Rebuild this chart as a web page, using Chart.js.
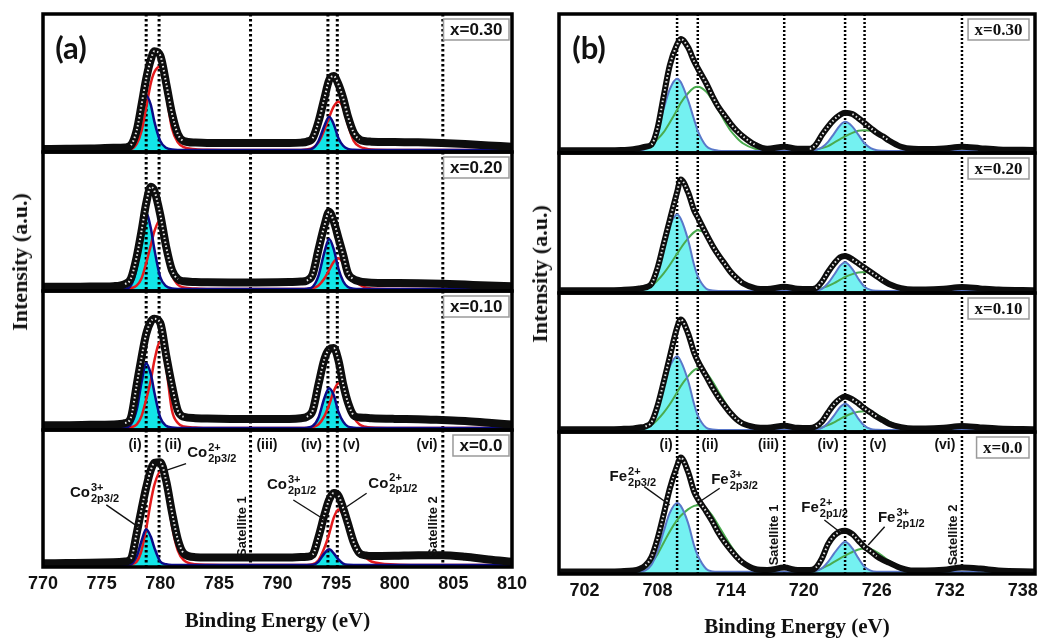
<!DOCTYPE html>
<html>
<head>
<meta charset="utf-8">
<title>Co 2p and Fe 2p XPS spectra</title>
<script src="https://cdn.jsdelivr.net/npm/chart.js@4.4.1/dist/chart.umd.min.js"></script>
<style>
  html, body { margin: 0; padding: 0; background: #fff; overflow: hidden; }
  body { position: relative; width: 1042px; height: 638px; }
  canvas { position: absolute; }
  .tag { position: absolute; z-index: 5; font: bold 31px Lato, "Open Sans", sans-serif; color: #111; transform: translate(-50%, -50%); }
  .ytitle { position: absolute; z-index: 5; font: bold 22px "Liberation Serif", "Times New Roman", serif; color: #111; white-space: nowrap; transform: translate(-50%, -50%) rotate(-90deg); }
</style>
</head>
<body>
<div class="tag" style="left:71px;top:47px">(a)</div>
<div class="tag" style="left:589px;top:47px">(b)</div>
<div class="ytitle" style="left:20px;top:262px">Intensity (a.u.)</div>
<div class="ytitle" style="left:540px;top:274px">Intensity (a.u.)</div>

<script>
// ---------- panel (a): Co 2p ----------
const aEnergy = [770, 772, 774, 776, 777, 777.5, 778, 778.4, 778.8, 779.2, 779.5, 780, 780.5, 781, 781.5, 782, 783, 784, 786, 788,
  790, 791, 792, 792.5, 793, 793.5, 794, 794.4, 794.8, 795.2, 795.6, 796, 796.5, 797, 797.5, 798, 800, 802, 804, 806, 808, 810];
const aTicks = [770, 775, 780, 785, 790, 795, 800, 805, 810];
const aMarkers = [778.8, 779.9, 787.7, 794.3, 795.1, 804.1];
const aComposition = ['x=0.30', 'x=0.20', 'x=0.10', 'x=0.0'];

// envelope (open circles), Co3+ (blue, filled), Co2+ (red)
const aEnv030 = [2.2,2.3,2.5,3,3.3,5,16,34,53,67, 73,70,50,28,13,8,6.8,6.5,6.5,6.6, 6.5,6.5,6.8,7.5,10,22,39,52,55,49, 39,26,14,9,7.8,7.5,7.2,7,6.5,5.8, 4.8,3.8];
const aCo3_030 = [1.5,1.5,1.5,1.5,1.6,3,12,28,41,34, 22,8,3,1.8,1.5,1.5,1.5,1.5,1.5,1.5, 1.5,1.5,1.5,1.6,2.5,8,19,25.5,20,10, 4.5,2.2,1.6,1.5,1.5,1.5,1.5,1.5,1.5,1.5, 1.5,1.5];
const aCo2_030 = [1.5,1.5,1.5,1.5,1.5,2,6,15,32,50, 58,62,42,17,7,3.5,2,1.6,1.5,1.5, 1.5,1.5,1.5,1.8,3,7,16,25,33,36.5, 32,20,8,4,2.5,1.8,1.5,1.5,1.5,1.5, 1.5,1.5];

const aEnv020 = [3,3,3.2,3.5,5,9,25,43,63,75, 72,55,32,15,8.5,7,6.5,6.3,6.2,6.2, 6.3,6.5,6.8,7.5,12,30,47,57,50,38, 26,13,8.5,7,6.3,6,5.8,5.6,5.2,4.6, 4,3.5];
const aCo3_020 = [1.5,1.5,1.5,1.5,1.6,4,17,40,56,45, 30,10,3.5,1.8,1.5,1.5,1.5,1.5,1.5,1.5, 1.5,1.5,1.5,1.7,3,11,28,37.4,30,16, 7,2.8,1.7,1.5,1.5,1.5,1.5,1.5,1.5,1.5, 1.5,1.5];
const aCo2_020 = [1.5,1.5,1.5,1.5,1.5,2,4,9,20,33, 43,51,36,12,4.5,2.5,1.8,1.5,1.5,1.5, 1.5,1.5,1.5,1.5,2,4,9,15,21,23.5, 20,14,8.5,4.5,2.5,1.8,1.5,1.5,1.5,1.5, 1.5,1.5];

const aEnv010 = [3.5,3.5,3.7,4,5,9,33,52,69,78, 80,77,54,32,14,9.5,8.5,8.2,8,8, 8,8,8.5,9.5,14,33,51,58,59,50, 33,20,10.5,9,8.8,8.5,8,7.8,7.2,6.5, 5.2,4];
const aCo3_010 = [1.5,1.5,1.5,1.5,1.6,4,15,34,48,40, 27,9,3,1.8,1.5,1.5,1.5,1.5,1.5,1.5, 1.5,1.5,1.5,1.7,2.8,9,23,30,25,13, 6,2.5,1.7,1.5,1.5,1.5,1.5,1.5,1.5,1.5, 1.5,1.5];
const aCo2_010 = [1.5,1.5,1.5,1.5,1.5,2,4,10,22,36, 50,63.5,45,14,5,2.5,1.8,1.5,1.5,1.5, 1.5,1.5,1.5,1.5,2,4,10,18,28,33.6, 29,19,9,4,2.3,1.8,1.5,1.5,1.5,1.5, 1.5,1.5];

const aEnv000 = [2.7,2.9,3.1,3.5,4,6,25,42,58,71, 76,76.5,63,40,20,10,7.2,7,7,7, 7,7,7.3,7.5,9,22,38,49,54,52, 43,32,18,10,8.5,8,8.2,8.6,8.6,7.5, 5.5,3.9];
const aCo3_000 = [1.5,1.5,1.5,1.5,1.5,2,8,19,27.5,22, 14,4,2,1.5,1.5,1.5,1.5,1.5,1.5,1.5, 1.5,1.5,1.5,1.5,1.6,4,10,12.9,10,5.5, 2.5,1.6,1.5,1.5,1.5,1.5,1.5,1.5,1.5,1.5, 1.5,1.5];
const aCo2_000 = [1.5,1.5,1.5,1.5,1.5,1.8,4,12,28,48, 60,69.6,58,30,12,5,2,1.6,1.5,1.5, 1.5,1.5,1.5,1.5,2,5,14,24,36,42, 38,30,20,11,7,4,1.8,1.5,1.5,1.5, 1.5,1.5];

// annotations of the x=0.0 Co spectrum (energy, intensity)
const aRomanX = [777.85, 781.1, 789.1, 792.9, 796.3, 802.75];
const aSatelliteX = [787.0, 803.3];
const aCharges = ['2+', '3+', '2+', '3+'];
const aOrbitals = ['2p3/2', '2p3/2', '2p1/2', '2p1/2'];
const aTextAt = [[782.3, 83], [772.3, 54], [797.75, 61], [789.1, 60]];
const aArrowFrom = [[782.2, 75.5], [775.4, 45.3], [797.6, 53.8], [791.35, 48.9]];
const aArrowTo = [[780.5, 70.5], [778.3, 28.2], [795.9, 44], [794.05, 34.3]];

// ---------- panel (b): Fe 2p ----------
const bEnergy = [700, 702, 704, 705, 706, 706.5, 707, 707.5, 708, 708.5, 709, 709.6, 709.9, 710.5, 711, 711.3, 712, 712.5, 713, 713.5,
  714, 714.5, 715, 716, 717, 718.4, 719.5, 720.5, 721, 721.5, 722, 722.5, 723, 723.4, 724, 724.5, 725, 725.5, 726, 726.5,
  727, 728, 729, 730, 731.5, 733, 734.5, 736, 739];
const bTicks = [702, 708, 714, 720, 726, 732, 738];
const bMarkers = [709.6, 711.3, 718.4, 723.4, 725.0, 733.0];
const bComposition = ['x=0.30', 'x=0.20', 'x=0.10', 'x=0.0'];

// envelope (open circles), Fe2+ (blue, filled), Fe3+ with satellites (green)
const bEnv030 = [2,2,2,2.2,2.8,3.5,4.5,6,18,41, 63,78,82,76,66,61,50,41,33,27, 21,16,12,6,3,4.5,3,3,6,13, 19,24,27.5,29,28,25,21.5,18,14.5,12, 9,4.5,3,2.8,3.2,4.5,3.5,2.6,2.2];
const bFe2_030 = [1.5,1.5,1.5,1.5,1.5,1.8,3,8,18,32, 46,53.5,51,38,24,16,5,2.5,1.7,1.5, 1.5,1.5,1.5,1.5,1.5,1.5,1.5,1.5,2.2,4, 8,14,20,22.4,19,13,7,3.5,2,1.6, 1.5,1.5,1.5,1.5,1.5,1.5,1.5,1.5,1.5];
const bFe3_030 = [1.5,1.5,1.5,1.5,1.6,2,3.5,6,10,15, 22,31,36,43,47,47.6,44,38,31,23, 16,11,7,3,2.2,3.8,2.2,2,2.5,3.5, 5,7.5,10,12,14.5,16,16.4,16,14,11.5, 9,4.5,2.5,2,2.5,3.5,2.5,1.8,1.5];

const bEnv020 = [2,2,2,2.2,2.6,3.2,4,6.5,18,35, 52,72,81,72,59,54,42,34,27,21, 15,10.5,7,3.5,2.8,4.5,3,2.8,3.5,8, 15,21,25.5,26.5,24,21,18,15,12,9, 6.5,3.5,2.5,2.5,3,4.2,3.3,2.5,2];
const bFe2_020 = [1.5,1.5,1.5,1.5,1.5,1.8,3,8,19,34, 48,56,53,38,20,12,3,1.8,1.5,1.5, 1.5,1.5,1.5,1.5,1.5,1.5,1.5,1.5,1.8,3, 7,13,19.5,22,17,10,4.5,2.2,1.6,1.5, 1.5,1.5,1.5,1.5,1.5,1.5,1.5,1.5,1.5];
const bFe3_020 = [1.5,1.5,1.5,1.5,1.6,2,3,5,9,14, 20,28,32,39,43.5,44.8,42,36,29,22, 15,10,6.5,3,2.2,3.5,2.2,2,2.4,3.5, 5,7,9.5,11.5,13.5,14.7,15,14.5,12.5,10, 7.5,4,2.5,2,2.4,3.3,2.4,1.8,1.5];

const bEnv010 = [2,2,2,2.2,2.6,3.2,4,7,19,36, 54,75,81,71,57,51,40,32,25,19, 13.5,9,6,3.5,3,4.5,3,2.8,4,7.5, 14,20,24,25.5,23.5,20.5,17,14,11,8.5, 6,3.5,2.5,2.5,3,4.3,3.3,2.5,2];
const bFe2_010 = [1.5,1.5,1.5,1.5,1.5,1.8,3,8,18,33, 47,54.5,51,37,20,12,3,1.8,1.5,1.5, 1.5,1.5,1.5,1.5,1.5,1.5,1.5,1.5,1.8,3, 6.5,12,18,20.4,16,9.5,4.5,2.2,1.6,1.5, 1.5,1.5,1.5,1.5,1.5,1.5,1.5,1.5,1.5];
const bFe3_010 = [1.5,1.5,1.5,1.5,1.6,2,3,5,9,14, 20,28.5,33,40,44.5,45.6,42.5,36.5,29,22, 15,10,6.5,3,2.2,3.5,2.2,2,2.4,3.4, 5,7,9.5,11.3,13.5,14.6,14.9,14.4,12.5,10, 7.5,4,2.5,2,2.4,3.3,2.4,1.8,1.5];

const bEnv000 = [1.8,1.8,1.8,2,2.5,3.5,6,12,25,42, 60,76,82,72,58,53,44,37,29,22.5, 17,12,8,3.5,2.8,4.5,2.8,2.8,4.5,11, 21,27,30,30.5,28,23.5,19,16,12.5,10, 8,4.2,2.5,2.5,3,4.5,3.8,2.5,1.8];
const bFe2_000 = [1.5,1.5,1.5,1.5,1.5,1.7,2.5,6.5,16,30, 43,50,48,36,20,13,3.5,1.8,1.5,1.5, 1.5,1.5,1.5,1.5,1.5,1.5,1.5,1.5,2,4, 8.5,14.5,20,22.7,18,11,5,2.4,1.6,1.5, 1.5,1.5,1.5,1.5,1.5,1.5,1.5,1.5,1.5];
const bFe3_000 = [1.5,1.5,1.5,1.5,1.6,2.2,4,8,14,22, 30,38,41,45.5,48,48.5,46,41,34,27, 20,14,9,4,2.4,3.8,2.2,2,2.5,4, 6,8.5,11,13,15.5,17.3,18,17.5,15.5,12.5, 9.5,5,2.7,2,2.5,3.8,2.6,1.8,1.5];

// annotations of the x=0.0 Fe spectrum (energy, intensity)
const bRomanX = [708.7, 712.3, 717.1, 722.0, 726.1, 731.6];
const bSatelliteX = [717.6, 732.3];
const bCharges = ['2+', '3+', '2+', '3+'];
const bOrbitals = ['2p3/2', '2p3/2', '2p1/2', '2p1/2'];
const bTextAt = [[704.05, 68.5], [712.4, 66.2], [719.8, 46.3], [726.1, 39.2]];
const bArrowFrom = [[706.9, 61.5], [713.1, 60.4], [721.7, 38], [726.65, 33.3]];
const bArrowTo = [[709.0, 48.6], [711.45, 50.9], [723.1, 28.7], [725.3, 20.4]];

const romans = ['(i)', '(ii)', '(iii)', '(iv)', '(v)', '(vi)'];

// ---------- layout ----------
const PADX = 30, PADY = 4;
const SANS = '"Liberation Sans", Arial, sans-serif';
const SERIF = '"Liberation Serif", "Times New Roman", serif';

const panelA = {
  left: 43, right: 512, tops: [14, 152, 291, 430], bottoms: [152, 291, 430, 567], axisH: 71,
  energy: aEnergy, min: 770, max: 810, ticks: aTicks, markers: aMarkers, labels: aComposition,
  envelopes: [aEnv030, aEnv020, aEnv010, aEnv000],
  first: [aCo3_030, aCo3_020, aCo3_010, aCo3_000],
  second: [aCo2_030, aCo2_020, aCo2_010, aCo2_000],
  envWidth: 8, firstColor: '#0b0b88', secondColor: '#e41a1c', fillColor: '#12e6e8', compWidth: 2.5,
  boxFont: 'bold 17px ' + SANS, boxRight: 3, markerWidth: 3, markerDash: [2.5, 2.5], frameWidth: 3.5,
  element: 'Co', charges: aCharges, orbitals: aOrbitals, textAt: aTextAt, arrowFrom: aArrowFrom, arrowTo: aArrowTo,
  romanX: aRomanX, romanY: 89, satX: aSatelliteX, satY: 29.5
};
const panelB = {
  left: 559, right: 1035, tops: [14, 153, 293, 432], bottoms: [153, 293, 432, 574], axisH: 70,
  energy: bEnergy, min: 699.9, max: 739, ticks: bTicks, markers: bMarkers, labels: bComposition,
  envelopes: [bEnv030, bEnv020, bEnv010, bEnv000],
  first: [bFe2_030, bFe2_020, bFe2_010, bFe2_000],
  second: [bFe3_030, bFe3_020, bFe3_010, bFe3_000],
  envWidth: 6, firstColor: '#5a78c9', secondColor: '#4aab4e', fillColor: '#74f1f1', compWidth: 2,
  boxFont: 'bold 17px ' + SERIF, boxRight: 6, markerWidth: 2.5, markerDash: [2, 2], frameWidth: 3.5,
  element: 'Fe', charges: bCharges, orbitals: bOrbitals, textAt: bTextAt, arrowFrom: bArrowFrom, arrowTo: bArrowTo,
  romanX: bRomanX, romanY: 90.8, satX: bSatelliteX, satY: 27.5
};

const pts = (xs, ys) => xs.map((x, i) => ({ x: x, y: ys[i] }));

// white holes of the open-circle markers, only where the curve is not flat
const holes = ctx => {
  const dx = Math.abs(ctx.p1.x - ctx.p0.x), dy = Math.abs(ctx.p1.y - ctx.p0.y);
  return dy > 0.6 * dx ? 'rgba(255,255,255,0.9)' : 'rgba(255,255,255,0)';
};

function decor(p, k) {
  return {
    id: 'decor',
    beforeDatasetsDraw(chart) {
      const { ctx, chartArea: ca, scales: { x } } = chart;
      ctx.save();
      ctx.strokeStyle = '#000';
      ctx.lineWidth = p.markerWidth;
      ctx.setLineDash(p.markerDash);
      p.markers.forEach(e => {
        const px = x.getPixelForValue(e);
        ctx.beginPath(); ctx.moveTo(px, ca.top); ctx.lineTo(px, ca.bottom); ctx.stroke();
      });
      ctx.restore();
    },
    afterDatasetsDraw(chart) {
      if (k !== 3) return;
      const { ctx, scales: { x, y } } = chart;
      ctx.save();
      ctx.fillStyle = '#111';
      ctx.strokeStyle = '#111';
      ctx.textBaseline = 'middle';
      ctx.textAlign = 'center';
      ctx.font = 'bold 14px ' + SANS;
      p.romanX.forEach((e, i) => ctx.fillText(romans[i], x.getPixelForValue(e), y.getPixelForValue(p.romanY)));
      ctx.font = 'bold 13px ' + SANS;
      p.satX.forEach((e, i) => {
        ctx.save();
        ctx.translate(x.getPixelForValue(e), y.getPixelForValue(p.satY));
        ctx.rotate(-Math.PI / 2);
        ctx.fillText('Satellite ' + (i + 1), 0, 0);
        ctx.restore();
      });
      ctx.lineWidth = 1.4;
      p.arrowFrom.forEach((f, i) => {
        const t = p.arrowTo[i];
        ctx.beginPath();
        ctx.moveTo(x.getPixelForValue(f[0]), y.getPixelForValue(f[1]));
        ctx.lineTo(x.getPixelForValue(t[0]), y.getPixelForValue(t[1]));
        ctx.stroke();
      });
      ctx.textAlign = 'left';
      p.textAt.forEach((t, i) => {
        const px = x.getPixelForValue(t[0]), py = y.getPixelForValue(t[1]);
        ctx.font = 'bold 15px ' + SANS;
        ctx.fillText(p.element, px, py);
        const w = ctx.measureText(p.element).width + 1;
        ctx.font = 'bold 11px ' + SANS;
        ctx.fillText(p.charges[i], px + w, py - 5);
        ctx.fillText(p.orbitals[i], px + w, py + 6);
      });
      ctx.restore();
    },
    afterDraw(chart) {
      const { ctx, chartArea: ca } = chart;
      ctx.save();
      // composition box
      ctx.font = p.boxFont;
      const label = p.labels[k];
      const tw = ctx.measureText(label).width;
      const bw = tw + 13, bh = 21;
      const bx = ca.right - p.boxRight - bw, by = ca.top + 5;
      ctx.fillStyle = '#fff';
      ctx.fillRect(bx, by, bw, bh);
      ctx.strokeStyle = '#9a9a9a';
      ctx.lineWidth = 1.5;
      ctx.strokeRect(bx, by, bw, bh);
      ctx.fillStyle = '#111';
      ctx.textAlign = 'center';
      ctx.textBaseline = 'middle';
      ctx.fillText(label, bx + bw / 2, by + bh / 2 + 1);
      // frame
      ctx.strokeStyle = '#000';
      ctx.lineWidth = p.frameWidth;
      ctx.strokeRect(ca.left, ca.top, ca.right - ca.left, ca.bottom - ca.top);
      ctx.restore();
    }
  };
}

function subplot(p, k) {
  const isBottom = k === 3;
  const top = p.tops[k], bottom = p.bottoms[k];
  const plotW = p.right - p.left, plotH = bottom - top;
  const cv = document.createElement('canvas');
  cv.width = plotW + 2 * PADX;
  cv.height = PADY + plotH + (isBottom ? p.axisH : PADY);
  cv.style.left = (p.left - PADX) + 'px';
  cv.style.top = (top - PADY) + 'px';
  document.body.appendChild(cv);

  const xScale = {
    type: 'linear', min: p.min, max: p.max, display: isBottom, position: 'bottom',
    grid: { display: false, drawTicks: false },
    border: { display: false },
    afterBuildTicks: s => { s.ticks = p.ticks.map(v => ({ value: v })); },
    ticks: { color: '#111', padding: 6, maxRotation: 0, autoSkip: false,
      font: { family: SANS, size: 18, weight: 'bold' } },
    title: { display: isBottom, text: 'Binding Energy (eV)', color: '#111', padding: { top: 4, bottom: 4 },
      font: { family: SERIF, size: 21, weight: 'bold' } }
  };
  if (isBottom) xScale.afterFit = s => { s.height = p.axisH; };

  new Chart(cv, {
    type: 'line',
    data: {
      datasets: [
        { data: pts(p.energy, p.envelopes[k]), borderColor: 'rgba(255,255,255,0)', borderWidth: 2,
          borderDash: [1.5, 2.5], segment: { borderColor: holes }, fill: false },
        { data: pts(p.energy, p.envelopes[k]), borderColor: '#0d0d0d', borderWidth: p.envWidth, fill: false },
        { data: pts(p.energy, p.first[k]), borderColor: p.firstColor, borderWidth: p.compWidth,
          fill: 'origin', backgroundColor: p.fillColor },
        { data: pts(p.energy, p.second[k]), borderColor: p.secondColor, borderWidth: p.compWidth, fill: false }
      ]
    },
    options: {
      responsive: false,
      animation: false,
      events: [],
      layout: { padding: { left: PADX, right: PADX, top: PADY, bottom: isBottom ? 0 : PADY } },
      elements: { point: { radius: 0 }, line: { cubicInterpolationMode: 'monotone' } },
      plugins: { legend: { display: false }, tooltip: { enabled: false }, filler: { drawTime: 'beforeDatasetsDraw' } },
      scales: { x: xScale, y: { type: 'linear', min: 0, max: 100, display: false } }
    },
    plugins: [decor(p, k)]
  });
}

[panelA, panelB].forEach(p => { for (let k = 0; k < 4; k++) subplot(p, k); });
</script>
</body>
</html>
